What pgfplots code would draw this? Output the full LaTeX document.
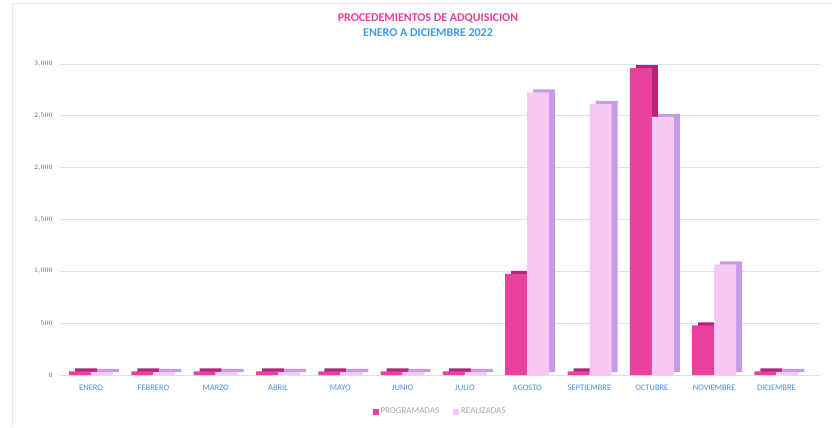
\documentclass[border=0pt]{standalone}
\usepackage{fontspec}
\setmainfont{Carlito}
\usepackage{pgfplots}
\pgfplotsset{compat=1.18}

\definecolor{progfront}{HTML}{E9419F}
\definecolor{progside}{HTML}{B82378}
\definecolor{realfront}{HTML}{F7C8F2}
\definecolor{realside}{HTML}{C49BE6}
\definecolor{titlepink}{HTML}{E83E9E}
\definecolor{titleblue}{HTML}{3A9BEA}
\definecolor{catblue}{HTML}{4A8ED8}
\definecolor{gridc}{HTML}{D6E2EE}

% Programadas / Realizadas por mes (0 = ENERO ... 11 = DICIEMBRE)
\pgfplotstableread{
x prog real
0 35 30
1 35 30
2 35 30
3 35 30
4 35 30
5 35 30
6 35 30
7 975 2725
8 35 2615
9 2960 2490
10 478 1066
11 35 30
}\datos

\begin{document}
\begin{tikzpicture}[x=1bp,y=1bp]
\path[use as bounding box] (0,0) rectangle (832,427);
\draw[gridc!70!white, line width=0.8bp] (12,0) -- (12,424) -- (832,424);

\node[font=\bfseries\fontsize{12}{13}\selectfont, text=titlepink] at (428,409) {PROCEDEMIENTOS DE ADQUISICION};
\node[font=\bfseries\fontsize{12}{13}\selectfont, text=titleblue] at (428,394) {ENERO A DICIEMBRE 2022};

\begin{axis}[
    at={(60bp,52bp)}, anchor=south west,
    scale only axis,
    width=760bp, height=321.4bp,
    xmin=-0.5, xmax=11.7,
    ymin=0, ymax=3100,
    axis line style={draw=none},
    tick style={draw=none},
    ytick={0,500,1000,1500,2000,2500,3000},
    ymajorgrids,
    grid style={gridc, line width=0.8bp},
    xtick={0,...,11},
    xticklabels={ENERO,FEBRERO,MARZO,ABRIL,MAYO,JUNIO,JULIO,AGOSTO,SEPTIEMBRE,OCTUBRE,NOVIEMBRE,DICIEMBRE},
    x tick label style={font=\fontsize{8.5}{9}\selectfont, text=catblue, yshift=-2bp},
    y tick label style={font=\fontsize{7.5}{8}\selectfont, text=black!65, xshift=-4bp},
    yticklabel style={/pgf/number format/1000 sep={\mathord{,}}},
    ybar, bar width=22bp,
    legend style={at={(0.5,-0.09)}, anchor=north, draw=none, fill=none,
        legend columns=2, font=\fontsize{9}{10}\selectfont, text=black!35,
        /tikz/every even column/.append style={column sep=12bp}},
    legend image code/.code={\fill[#1] (0bp,-3bp) rectangle (6bp,3bp);},
]
% caras laterales (efecto 3D)
\addplot[fill=progside, draw=none, bar shift=-11bp, xshift=6bp, yshift=3bp, forget plot] table[x=x,y=prog] {\datos};
\addplot[fill=progfront, draw=none, bar shift=-11bp] table[x=x,y=prog] {\datos};
\addplot[fill=realside, draw=none, bar shift=11bp, xshift=6bp, yshift=3bp, forget plot] table[x=x,y=real] {\datos};
\addplot[fill=realfront, draw=none, bar shift=11bp] table[x=x,y=real] {\datos};
\legend{PROGRAMADAS, REALIZADAS}
\end{axis}
\end{tikzpicture}
\end{document}
